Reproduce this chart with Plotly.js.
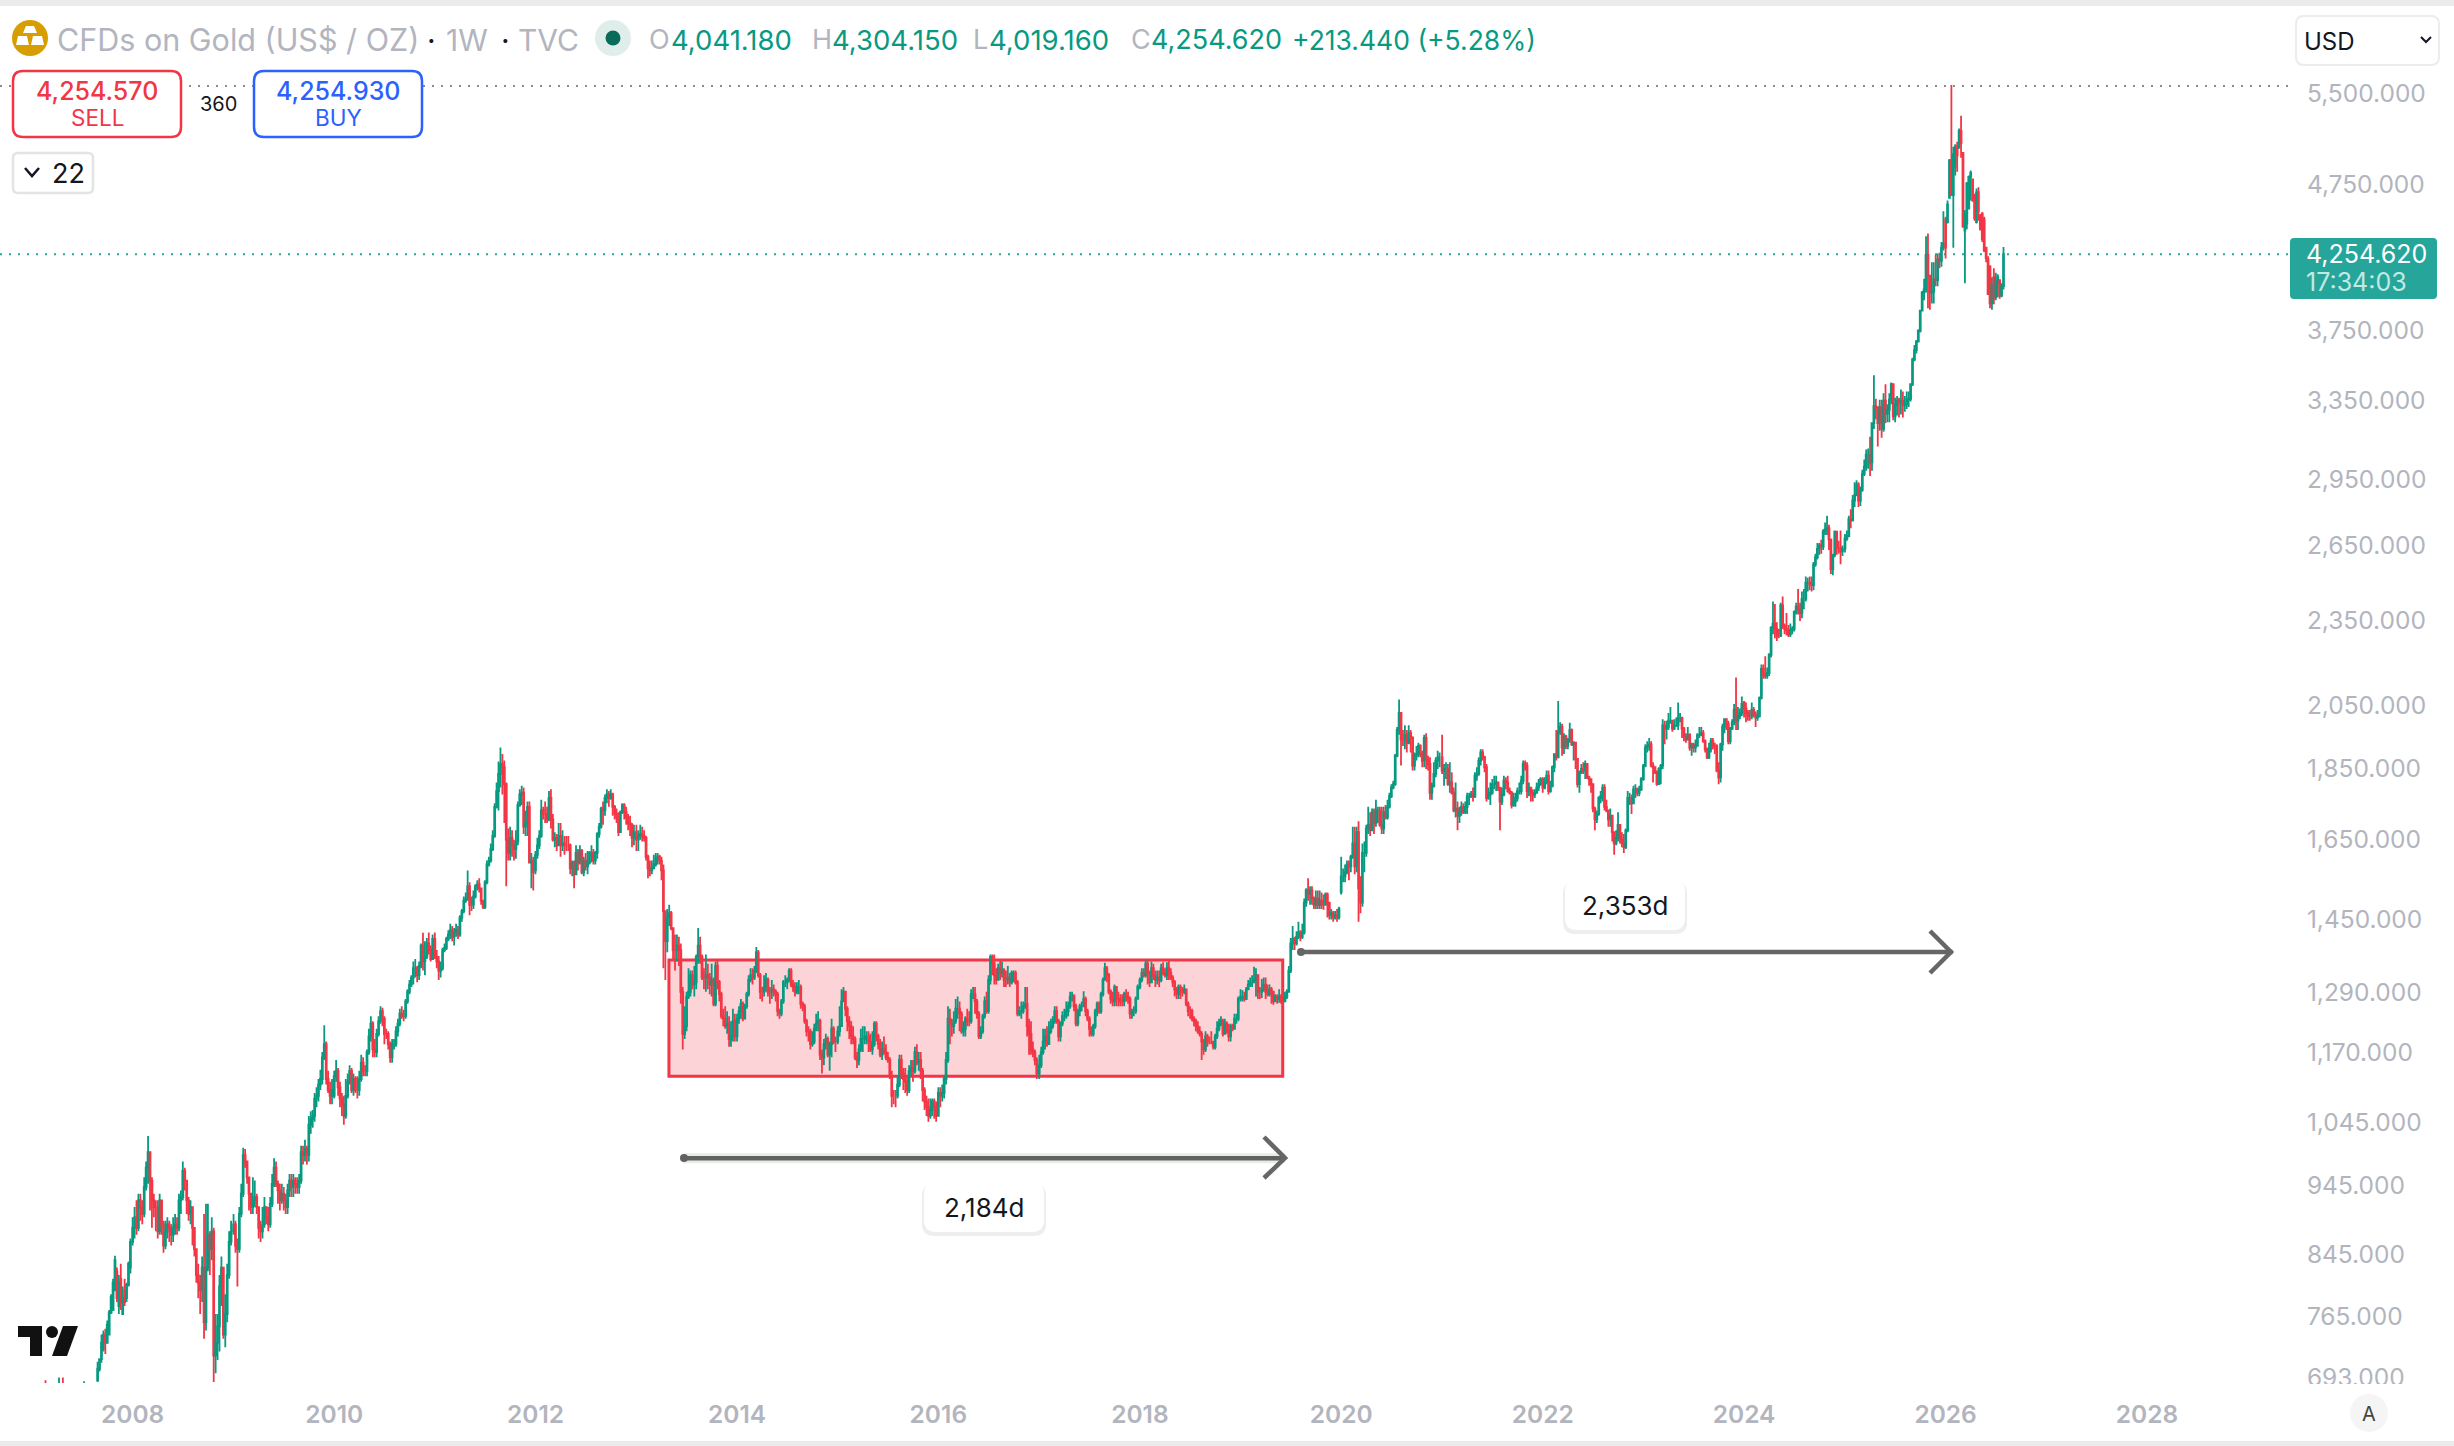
<!DOCTYPE html>
<html><head><meta charset="utf-8">
<script src="https://cdn.plot.ly/plotly-3.0.1.min.js"></script>
<style>html,body{margin:0;padding:0;background:#fff;overflow:hidden}#c{position:absolute;left:0;top:0;width:2454px;height:1446px}
#cover{position:absolute;left:2295px;top:1384px;width:140px;height:9px;background:#fff}</style>
</head><body><div id="c"></div><div id="cover"></div>
<script>
const close2007=[640,645,650,655,660,665,672,670,655,650,655,660,665,
670,675,672,668,665,660,655,650,648,650,655,650,655,660,675,
665,660,655,650,655,665,705,716,735,745,735,757,772,792,810,
840,790,810,785,790,785,807,835,865];
const open2007=[635,640,645,650,655,660,665,672,670,655,650,655,660,
665,670,675,672,668,665,660,655,650,648,650,655,650,655,660,
675,665,660,655,650,655,692,705,716,728,745,735,745,772,775,
800,825,780,815,770,800,790,807,830];
const high2007=[650,655,660,662,668,675,680,692,675,660,662,668,672,
678,695,680,695,675,670,665,660,655,658,660,660,665,670,691,
680,668,662,658,664,680,713,717,745,750,752,762,775,795,815,
846,830,820,835,805,815,810,838,870];
const low2007=[625,630,635,640,645,650,655,650,640,640,645,650,655,
660,662,660,655,650,648,642,640,640,640,642,640,640,645,650,
655,650,645,640,642,650,690,702,712,725,722,735,745,770,775,
800,785,770,775,770,780,785,805,822];

const close2008=[885,900,885,925,915,905,945,975,1000,955,925,915,915,
880,925,890,860,880,890,885,875,885,890,885,925,930,
970,955,925,905,915,885,855,820,810,800,830,760,830,
875,855,880,720,735,755,805,830,745,770,820,865,880];
const open2008=[865,885,900,885,925,915,905,945,975,1000,955,925,915,
915,880,925,890,860,880,890,885,875,885,890,885,925,
930,970,955,925,905,915,885,855,820,810,800,830,760,
830,875,855,880,720,735,755,805,830,745,770,820,865];
const high2008=[900,915,925,935,935,925,960,985,1026,1000,960,935,925,
925,935,925,895,895,900,895,890,900,905,900,935,940,
985,975,955,930,925,915,880,855,835,820,845,905,920,
920,880,900,885,770,770,820,845,830,795,835,880,895];
const low2008=[860,870,875,880,895,890,900,940,950,910,885,900,880,
870,875,875,850,855,870,865,860,865,875,875,880,905,
925,940,905,895,890,860,845,810,790,770,785,740,750,
825,820,840,690,700,715,725,780,740,730,760,815,860];

const close2009=[890,860,855,905,935,995,985,960,935,915,925,930,915,
885,880,890,915,900,890,920,950,975,950,940,925,935,
925,915,940,955,945,955,950,945,955,1000,995,1005,995,
1045,1055,1060,1090,1095,1115,1125,1165,1190,1125,1105,1095,1105];
const open2009=[880,890,860,855,905,935,995,985,960,935,915,925,930,
915,885,880,890,915,900,890,920,950,975,950,940,925,
935,925,915,940,955,945,955,950,945,955,1000,995,1005,
995,1045,1055,1060,1090,1095,1115,1125,1165,1190,1125,1105,1095];
const high2009=[905,895,870,915,950,1007,1005,985,960,935,960,955,935,
915,895,915,930,915,915,930,965,990,985,955,950,950,
945,935,950,965,965,965,960,960,965,1010,1010,1020,1010,
1060,1068,1070,1100,1110,1125,1142,1175,1227,1195,1140,1120,1125];
const low2009=[875,850,805,850,900,930,975,950,910,905,905,915,905,
870,865,870,885,890,880,885,915,945,945,920,910,920,
910,905,905,930,930,930,935,935,935,950,980,985,980,
985,1030,1040,1050,1075,1085,1105,1115,1160,1115,1100,1080,1080];

const close2010=[1130,1140,1110,1090,1080,1060,1095,1120,1140,1105,1125,1105,1105,
1125,1155,1140,1140,1175,1205,1230,1180,1175,1210,1235,1255,1240,
1210,1210,1190,1165,1190,1190,1215,1230,1250,1245,1245,1275,1295,1310,
1325,1345,1345,1330,1350,1395,1360,1370,1400,1385,1365,1410];
const open2010=[1095,1130,1140,1110,1090,1080,1060,1095,1120,1140,1105,1125,1105,
1105,1125,1155,1140,1140,1175,1205,1230,1180,1175,1210,1235,1255,
1240,1210,1210,1190,1165,1190,1190,1215,1230,1250,1245,1245,1275,1295,
1310,1325,1345,1345,1330,1350,1395,1360,1370,1400,1385,1365];
const high2010=[1140,1160,1145,1120,1100,1095,1125,1135,1150,1145,1135,1130,1130,
1140,1170,1165,1150,1180,1220,1245,1235,1200,1220,1245,1265,1262,
1245,1220,1215,1195,1200,1200,1225,1240,1260,1265,1258,1280,1300,1320,
1330,1360,1365,1350,1360,1400,1424,1405,1412,1425,1395,1420];
const low2010=[1090,1120,1095,1075,1060,1045,1055,1090,1115,1100,1095,1100,1090,
1095,1120,1130,1130,1130,1170,1195,1165,1165,1165,1205,1230,1225,
1190,1200,1180,1155,1155,1180,1185,1205,1225,1240,1235,1240,1270,1290,
1305,1310,1325,1315,1320,1345,1340,1330,1365,1375,1360,1365];

const close2011=[1370,1360,1340,1345,1385,1390,1410,1420,1430,1415,1425,1430,1420,
1460,1475,1500,1505,1535,1490,1490,1510,1535,1540,1530,1500,1485,
1545,1590,1600,1630,1665,1745,1790,1840,1870,1860,1810,1655,1620,1660,
1640,1630,1650,1750,1780,1785,1690,1700,1745,1595,1600,1570];
const open2011=[1410,1370,1360,1340,1345,1385,1390,1410,1420,1430,1415,1425,1430,
1420,1460,1475,1500,1505,1535,1490,1490,1510,1535,1540,1530,1500,
1485,1545,1590,1600,1630,1665,1745,1790,1840,1870,1860,1810,1655,1620,
1660,1640,1630,1650,1750,1780,1785,1690,1700,1745,1595,1600];
const high2011=[1425,1385,1372,1360,1390,1400,1415,1430,1445,1440,1435,1445,1440,
1465,1480,1510,1520,1575,1545,1510,1525,1540,1550,1555,1530,1500,
1550,1600,1610,1645,1680,1755,1815,1877,1920,1900,1880,1815,1685,1690,
1680,1655,1680,1760,1795,1805,1800,1735,1760,1760,1620,1610];
const low2011=[1365,1345,1320,1325,1340,1380,1385,1405,1410,1405,1395,1415,1410,
1415,1450,1470,1495,1500,1465,1475,1480,1505,1525,1520,1490,1480,
1480,1540,1585,1595,1625,1660,1740,1735,1800,1780,1700,1535,1600,1600,
1610,1600,1605,1640,1745,1750,1670,1665,1665,1595,1530,1525];

const close2012=[1615,1640,1665,1735,1725,1725,1710,1770,1710,1655,1660,1640,1665,
1640,1645,1640,1640,1640,1580,1595,1565,1620,1595,1625,1570,1600,
1585,1595,1620,1620,1600,1620,1670,1690,1740,1735,1770,1780,1770,1780,
1745,1725,1715,1675,1730,1750,1730,1715,1700,1695,1660,1675];
const open2012=[1575,1615,1640,1665,1735,1725,1725,1710,1770,1710,1655,1660,1640,
1665,1640,1645,1640,1640,1640,1580,1595,1565,1620,1595,1625,1570,
1600,1585,1595,1620,1620,1600,1620,1670,1690,1740,1735,1770,1780,1770,
1780,1745,1725,1715,1675,1730,1750,1730,1715,1700,1695,1660];
const high2012=[1625,1660,1680,1765,1745,1760,1745,1790,1795,1725,1675,1670,1700,
1700,1680,1665,1665,1665,1645,1600,1600,1640,1630,1640,1630,1610,
1620,1625,1625,1640,1630,1625,1675,1700,1745,1760,1780,1795,1790,1795,
1785,1750,1740,1730,1735,1755,1755,1745,1725,1720,1700,1695];
const low2012=[1565,1605,1630,1660,1710,1700,1700,1705,1685,1650,1635,1625,1640,
1610,1625,1615,1625,1625,1565,1560,1530,1565,1575,1590,1565,1560,
1575,1565,1590,1595,1590,1590,1605,1660,1685,1695,1720,1755,1745,1765,
1720,1710,1700,1665,1675,1725,1710,1695,1680,1665,1635,1640];

const close2013=[1655,1665,1670,1665,1660,1610,1580,1575,1580,1590,1605,1610,1600,
1575,1475,1405,1460,1470,1435,1385,1385,1395,1385,1295,1210,1225,
1285,1295,1330,1310,1315,1370,1395,1370,1325,1325,1330,1325,1310,1320,
1270,1350,1315,1290,1245,1240,1225,1230,1200,1205,1235,1205];
const open2013=[1675,1655,1665,1670,1665,1660,1610,1580,1575,1580,1590,1605,1610,
1600,1575,1475,1405,1460,1470,1435,1385,1385,1395,1385,1295,1210,
1225,1285,1295,1330,1310,1315,1370,1395,1370,1325,1325,1330,1325,1310,
1320,1270,1350,1315,1290,1245,1240,1225,1230,1200,1205,1235];
const high2013=[1695,1680,1695,1690,1680,1665,1615,1600,1600,1615,1620,1620,1615,
1610,1590,1430,1480,1490,1475,1430,1420,1420,1415,1400,1305,1265,
1295,1345,1340,1340,1350,1375,1435,1415,1375,1345,1375,1355,1335,1355,
1325,1360,1365,1320,1295,1260,1265,1255,1245,1235,1260,1250];
const low2013=[1625,1625,1655,1650,1650,1600,1555,1560,1565,1580,1585,1590,1590,
1550,1345,1320,1380,1440,1430,1365,1340,1360,1350,1270,1180,1200,
1215,1280,1285,1300,1285,1300,1355,1355,1320,1300,1295,1300,1290,1285,
1265,1265,1300,1275,1240,1225,1220,1210,1185,1185,1195,1195];

const close2014=[1240,1255,1270,1240,1265,1290,1320,1330,1325,1340,1380,1330,1295,
1295,1305,1320,1295,1295,1300,1295,1290,1255,1250,1275,1315,1315,
1320,1340,1310,1305,1295,1305,1305,1270,1265,1235,1215,1215,1190,1195,
1220,1230,1235,1170,1165,1190,1200,1170,1190,1220,1195,1195];
const open2014=[1205,1240,1255,1270,1240,1265,1290,1320,1330,1325,1340,1380,1330,
1295,1295,1305,1320,1295,1295,1300,1295,1290,1255,1250,1275,1315,
1315,1320,1340,1310,1305,1295,1305,1305,1270,1265,1235,1215,1215,1190,
1195,1220,1230,1235,1170,1165,1190,1200,1170,1190,1220,1195];
const high2014=[1250,1265,1280,1275,1270,1295,1330,1345,1345,1350,1392,1385,1335,
1305,1330,1335,1325,1305,1320,1310,1300,1295,1260,1280,1320,1330,
1325,1345,1345,1320,1315,1315,1320,1310,1275,1270,1240,1225,1220,1215,
1230,1250,1255,1240,1180,1200,1210,1205,1195,1240,1225,1205];
const low2014=[1195,1230,1240,1235,1240,1260,1285,1315,1310,1320,1335,1325,1280,
1275,1285,1295,1285,1270,1280,1285,1275,1245,1240,1245,1270,1305,
1300,1315,1305,1295,1285,1290,1290,1260,1255,1230,1205,1195,1180,1185,
1190,1215,1215,1160,1135,1150,1180,1165,1140,1165,1190,1175];

const close2015=[1215,1225,1275,1295,1260,1235,1225,1205,1200,1165,1160,1180,1200,
1200,1205,1205,1195,1180,1190,1230,1205,1190,1170,1180,1175,1165,
1160,1130,1095,1095,1095,1115,1160,1135,1125,1120,1105,1140,1145,1140,
1175,1155,1160,1140,1105,1085,1075,1060,1070,1085,1075,1060];
const open2015=[1195,1215,1225,1275,1295,1260,1235,1225,1205,1200,1165,1160,1180,
1200,1200,1205,1205,1195,1180,1190,1230,1205,1190,1170,1180,1175,
1165,1160,1130,1095,1095,1095,1115,1160,1135,1125,1120,1105,1140,1145,
1140,1175,1155,1160,1140,1105,1085,1075,1060,1070,1085,1075];
const high2015=[1225,1265,1300,1305,1295,1265,1245,1235,1225,1205,1175,1190,1220,
1225,1225,1215,1215,1210,1215,1235,1235,1210,1200,1195,1205,1190,
1175,1165,1140,1105,1105,1130,1170,1170,1145,1145,1130,1150,1160,1160,
1185,1190,1175,1175,1145,1110,1095,1090,1090,1090,1090,1085];
const low2015=[1190,1205,1225,1280,1245,1215,1200,1190,1190,1160,1145,1150,1175,
1175,1190,1190,1175,1175,1170,1185,1195,1180,1165,1160,1170,1160,
1155,1125,1075,1080,1075,1090,1110,1125,1105,1100,1095,1100,1130,1120,
1135,1150,1140,1125,1085,1070,1060,1050,1055,1060,1055,1050];

const close2016=[1100,1095,1100,1125,1160,1240,1230,1225,1235,1260,1260,1250,1215,
1220,1240,1235,1235,1290,1290,1275,1250,1205,1215,1245,1275,1255,
1320,1370,1355,1330,1320,1345,1335,1340,1320,1320,1325,1315,1335,1335,
1315,1250,1255,1255,1265,1270,1225,1210,1180,1175,1160,1135];
const open2016=[1060,1100,1095,1100,1125,1160,1240,1230,1225,1235,1260,1260,1250,
1215,1220,1240,1235,1235,1290,1290,1275,1250,1205,1215,1245,1275,
1255,1320,1370,1355,1330,1320,1345,1335,1340,1320,1320,1325,1315,1335,
1335,1315,1250,1255,1255,1265,1270,1225,1210,1180,1175,1160];
const high2016=[1110,1110,1115,1130,1175,1265,1260,1240,1255,1280,1285,1275,1255,
1235,1245,1260,1255,1300,1305,1305,1280,1255,1225,1250,1285,1295,
1330,1375,1375,1375,1345,1355,1365,1360,1345,1340,1350,1335,1340,1340,
1340,1320,1265,1275,1275,1305,1305,1240,1235,1195,1180,1165];
const low2016=[1060,1075,1085,1090,1115,1155,1190,1205,1210,1230,1240,1215,1210,
1205,1205,1225,1225,1230,1280,1250,1240,1200,1200,1210,1240,1250,
1250,1310,1330,1310,1310,1320,1320,1325,1305,1305,1310,1305,1310,1315,
1310,1245,1245,1240,1250,1260,1205,1170,1170,1165,1150,1125];

const close2017=[1150,1175,1195,1205,1190,1215,1225,1235,1255,1235,1205,1230,1245,
1245,1255,1265,1285,1285,1265,1230,1255,1265,1265,1280,1255,1240,
1220,1210,1225,1255,1270,1255,1290,1320,1345,1330,1295,1280,1275,1305,
1280,1280,1275,1275,1290,1285,1280,1250,1255,1255,1280,1305];
const open2017=[1135,1150,1175,1195,1205,1190,1215,1225,1235,1255,1235,1205,1230,
1245,1245,1255,1265,1285,1285,1265,1230,1255,1265,1265,1280,1255,
1240,1220,1210,1225,1255,1270,1255,1290,1320,1345,1330,1295,1280,1275,
1305,1280,1280,1275,1275,1290,1285,1280,1250,1255,1255,1280];
const high2017=[1170,1185,1220,1220,1225,1235,1240,1245,1265,1265,1240,1235,1255,
1260,1275,1275,1295,1295,1290,1270,1260,1270,1275,1296,1285,1260,
1245,1225,1230,1260,1275,1275,1295,1325,1357,1350,1335,1300,1295,1310,
1305,1295,1290,1290,1295,1300,1295,1285,1260,1265,1285,1310];
const low2017=[1125,1145,1170,1180,1185,1190,1210,1220,1230,1230,1195,1195,1225,
1235,1240,1245,1260,1275,1255,1225,1225,1245,1255,1265,1245,1235,
1205,1205,1205,1220,1245,1250,1250,1285,1320,1315,1290,1270,1265,1265,
1265,1265,1265,1265,1265,1275,1270,1240,1240,1245,1250,1280];

const close2018=[1320,1335,1330,1355,1335,1315,1345,1330,1320,1325,1320,1345,1335,
1330,1345,1335,1325,1315,1300,1290,1305,1295,1295,1300,1270,1255,
1255,1240,1235,1225,1215,1210,1195,1180,1205,1195,1195,1195,1185,1205,
1220,1230,1235,1210,1230,1215,1205,1225,1220,1240,1240,1280];
const open2018=[1305,1320,1335,1330,1355,1335,1315,1345,1330,1320,1325,1320,1345,
1335,1330,1345,1335,1325,1315,1300,1290,1305,1295,1295,1300,1270,
1255,1255,1240,1235,1225,1215,1210,1195,1180,1205,1195,1195,1195,1185,
1205,1220,1230,1235,1210,1230,1215,1205,1225,1220,1240,1240];
const high2018=[1325,1345,1345,1365,1365,1340,1360,1355,1340,1340,1340,1355,1358,
1345,1358,1365,1345,1330,1320,1305,1310,1310,1305,1310,1300,1275,
1265,1260,1245,1240,1235,1225,1215,1200,1215,1210,1205,1215,1195,1210,
1235,1240,1245,1240,1240,1235,1230,1230,1230,1250,1250,1285];
const low2018=[1300,1315,1325,1325,1310,1305,1315,1320,1305,1310,1305,1315,1330,
1325,1320,1320,1320,1305,1285,1280,1280,1280,1285,1290,1265,1245,
1240,1235,1225,1215,1210,1205,1160,1170,1175,1185,1190,1190,1180,1180,
1200,1215,1225,1205,1210,1210,1195,1195,1215,1220,1230,1235];

const close2019=[1285,1285,1280,1300,1310,1315,1315,1320,1330,1295,1295,1300,1310,
1295,1290,1300,1295,1275,1285,1280,1285,1275,1275,1285,1295,1340,
1400,1410,1400,1415,1425,1415,1425,1495,1525,1515,1525,1505,1490,1505,
1490,1500,1490,1490,1515,1495,1465,1470,1460,1465,1460,1480];
const open2019=[1280,1285,1285,1280,1300,1310,1315,1315,1320,1330,1295,1295,1300,
1310,1295,1290,1300,1295,1275,1285,1280,1285,1275,1275,1285,1295,
1340,1400,1410,1400,1415,1425,1415,1425,1495,1525,1515,1525,1505,1490,
1505,1490,1500,1490,1490,1515,1495,1465,1470,1460,1465,1460];
const high2019=[1300,1298,1295,1305,1320,1325,1330,1348,1345,1330,1305,1322,1325,
1325,1310,1310,1305,1295,1290,1290,1300,1290,1285,1295,1300,1350,
1412,1440,1415,1428,1450,1430,1445,1505,1530,1555,1535,1535,1510,1525,
1525,1525,1520,1515,1520,1520,1495,1480,1475,1475,1480,1485];
const low2019=[1275,1275,1275,1278,1300,1305,1305,1315,1285,1280,1280,1282,1295,
1280,1285,1285,1270,1268,1275,1270,1272,1270,1265,1275,1280,1295,
1335,1385,1385,1395,1410,1405,1410,1420,1485,1500,1490,1490,1480,1480,
1480,1480,1480,1478,1490,1460,1455,1455,1450,1455,1450,1455];

const close2020=[1560,1560,1570,1590,1585,1610,1645,1585,1675,1530,1495,1620,1620,
1685,1695,1680,1730,1700,1735,1735,1695,1685,1730,1715,1745,1775,
1800,1810,1895,1975,2030,1945,1945,1960,1935,1965,1950,1865,1895,1900,
1925,1900,1880,1950,1885,1870,1785,1805,1840,1880,1890,1890];
const open2020=[1520,1560,1560,1570,1590,1585,1610,1645,1585,1675,1530,1495,1620,
1620,1685,1695,1680,1730,1700,1735,1735,1695,1685,1730,1715,1745,
1775,1800,1810,1895,1975,2030,1945,1945,1960,1935,1965,1950,1865,1895,
1900,1925,1900,1880,1950,1885,1870,1785,1805,1840,1880,1890];
const high2020=[1610,1580,1590,1600,1600,1615,1690,1690,1690,1705,1560,1645,1650,
1695,1745,1730,1740,1740,1765,1745,1745,1745,1745,1750,1765,1785,
1810,1820,1900,1985,2075,2015,1975,1990,1975,1990,1975,1955,1905,1925,
1935,1930,1910,1960,1965,1895,1890,1815,1875,1890,1910,1905];
const low2020=[1515,1545,1545,1565,1550,1570,1605,1565,1570,1450,1470,1485,1570,
1610,1670,1665,1680,1670,1690,1700,1690,1670,1670,1710,1710,1740,
1770,1795,1805,1890,1960,1865,1925,1915,1905,1930,1905,1850,1850,1880,
1890,1890,1860,1860,1855,1850,1765,1765,1800,1830,1855,1860];

const close2021=[1850,1855,1855,1810,1815,1785,1735,1740,1720,1730,1745,1730,1745,
1775,1775,1780,1775,1835,1840,1880,1905,1890,1860,1770,1780,1785,
1810,1810,1815,1800,1760,1780,1820,1815,1790,1785,1750,1760,1770,1790,
1790,1820,1870,1865,1790,1800,1785,1780,1785,1800,1810,1825];
const open2021=[1890,1850,1855,1855,1810,1815,1785,1735,1740,1720,1730,1745,1730,
1745,1775,1775,1780,1775,1835,1840,1880,1905,1890,1860,1770,1780,
1785,1810,1810,1815,1800,1760,1780,1820,1815,1790,1785,1750,1760,1770,
1790,1790,1820,1870,1865,1790,1800,1785,1780,1785,1800,1810];
const high2021=[1960,1870,1875,1870,1875,1845,1800,1815,1760,1745,1760,1755,1760,
1785,1785,1790,1800,1845,1860,1890,1915,1915,1895,1870,1800,1815,
1825,1835,1835,1815,1800,1800,1835,1830,1835,1800,1790,1785,1785,1800,
1815,1835,1880,1880,1875,1815,1800,1795,1795,1815,1825,1830];
const low2021=[1840,1805,1825,1805,1785,1780,1730,1715,1680,1700,1720,1725,1725,
1725,1750,1770,1760,1770,1820,1835,1865,1880,1845,1760,1765,1750,
1780,1795,1790,1790,1680,1750,1775,1795,1785,1780,1740,1745,1745,1760,
1780,1780,1810,1850,1770,1775,1760,1760,1770,1785,1790,1805];

const close2022=[1800,1815,1835,1790,1805,1860,1900,1890,1970,1985,1920,1955,1925,
1945,1975,1930,1935,1885,1810,1845,1855,1850,1870,1830,1825,1810,
1740,1710,1725,1770,1775,1800,1745,1735,1710,1720,1675,1645,1660,1695,
1655,1645,1635,1680,1770,1770,1755,1795,1795,1785,1795,1825];
const open2022=[1825,1800,1815,1835,1790,1805,1860,1900,1890,1970,1985,1920,1955,
1925,1945,1975,1930,1935,1885,1810,1845,1855,1850,1870,1830,1825,
1810,1740,1710,1725,1770,1775,1800,1745,1735,1710,1720,1675,1645,1660,
1695,1655,1645,1635,1680,1770,1770,1755,1795,1795,1785,1795];
const high2022=[1830,1830,1850,1850,1820,1865,1880,1975,2070,2000,1995,1965,1960,
1950,1998,1980,1940,1910,1860,1850,1870,1875,1880,1845,1835,1815,
1785,1745,1735,1775,1790,1810,1810,1765,1735,1740,1680,1675,1680,1730,
1680,1675,1670,1685,1790,1785,1780,1805,1810,1800,1805,1830];
const low2022=[1785,1795,1810,1780,1785,1800,1845,1880,1890,1960,1895,1900,1915,
1915,1935,1925,1880,1855,1800,1785,1840,1840,1825,1825,1805,1785,
1730,1680,1700,1720,1755,1760,1735,1730,1690,1690,1650,1615,1640,1650,
1645,1635,1620,1630,1675,1750,1725,1755,1770,1775,1775,1790];

const close2023=[1865,1920,1925,1930,1865,1860,1845,1810,1855,1865,1990,1980,1985,
2005,2005,1980,1990,1990,2015,2015,1980,1955,1945,1960,1920,1930,
1920,1925,1960,1960,1965,1940,1915,1890,1915,1940,1925,1925,1850,1830,
1930,1985,2010,1995,1940,1980,2000,2040,2005,2020,2030,2060];
const open2023=[1825,1865,1920,1925,1930,1865,1860,1845,1810,1855,1865,1990,1980,
1985,2005,2005,1980,1990,1990,2015,2015,1980,1955,1945,1960,1920,
1930,1920,1925,1960,1960,1965,1940,1915,1890,1915,1940,1925,1925,1850,
1830,1930,1985,2010,1995,1940,1980,2000,2040,2005,2020,2030];
const high2023=[1870,1930,1940,1950,1940,1875,1860,1850,1860,1870,2010,2005,2005,
2030,2050,2005,2010,2015,2065,2030,2015,1985,1965,1985,1965,1935,
1935,1945,1965,1985,1985,1975,1945,1920,1935,1950,1950,1935,1930,1875,
1935,1995,2010,2010,2005,1985,2010,2060,2150,2050,2045,2085];
const low2023=[1820,1860,1905,1910,1860,1815,1840,1805,1810,1810,1855,1930,1945,
1975,1995,1970,1975,1985,1975,2000,1950,1940,1935,1945,1910,1895,
1905,1905,1925,1950,1955,1935,1905,1885,1885,1905,1915,1900,1845,1810,
1815,1910,1965,1975,1930,1930,1975,1990,1975,1975,2010,2020];

const close2024=[2045,2030,2020,2020,2040,2025,2015,2020,2080,2180,2160,2155,2165,
2230,2330,2345,2325,2300,2300,2415,2335,2325,2320,2305,2320,2325,
2390,2410,2400,2385,2440,2440,2505,2505,2500,2495,2580,2610,2645,2660,
2655,2720,2730,2735,2685,2560,2620,2720,2650,2650,2635,2645];
const open2024=[2065,2045,2030,2020,2020,2040,2025,2015,2020,2080,2180,2160,2155,
2165,2230,2330,2345,2325,2300,2300,2415,2335,2325,2320,2305,2320,
2325,2390,2410,2400,2385,2440,2440,2505,2505,2500,2495,2580,2610,2645,
2660,2655,2720,2730,2735,2685,2560,2620,2720,2650,2650,2635];
const high2024=[2070,2065,2040,2040,2065,2050,2035,2040,2085,2195,2195,2225,2185,
2235,2335,2430,2420,2350,2325,2425,2450,2345,2385,2340,2345,2335,
2395,2425,2480,2425,2470,2480,2530,2525,2530,2530,2590,2625,2670,2670,
2685,2730,2760,2790,2750,2690,2625,2725,2720,2680,2725,2660];
const low2024=[2015,2000,2005,2005,2010,2015,1985,2005,2015,2075,2145,2145,2145,
2155,2220,2305,2290,2280,2290,2295,2325,2305,2300,2295,2295,2305,
2315,2380,2380,2355,2365,2400,2430,2470,2475,2470,2475,2570,2600,2620,
2625,2640,2705,2705,2640,2540,2535,2610,2620,2625,2580,2615];

const close2025=[2690,2700,2775,2770,2860,2885,2935,2860,2910,2985,3020,3080,3080,
3040,3240,3330,3320,3240,3325,3210,3360,3290,3310,3365,3450,3275,
3335,3360,3350,3360,3335,3340,3365,3370,3450,3590,3645,3695,3760,3885,
4000,4020,4250,4110,4000,4005,4085,4080,4220,4210,4300,4330];
const open2025=[2645,2690,2700,2775,2770,2860,2885,2935,2860,2910,2985,3020,3080,
3080,3040,3240,3330,3320,3240,3325,3210,3360,3290,3310,3365,3450,
3275,3335,3360,3350,3360,3335,3340,3365,3370,3450,3590,3645,3695,3760,
3885,4000,4020,4250,4110,4000,4005,4085,4080,4220,4210,4300];
const high2025=[2710,2725,2790,2820,2885,2945,2955,2945,2925,3005,3055,3105,3110,
3170,3245,3500,3370,3330,3365,3365,3400,3450,3340,3400,3460,3455,
3375,3385,3375,3420,3410,3385,3410,3410,3455,3600,3675,3705,3770,3890,
4010,4090,4380,4400,4080,4200,4200,4250,4260,4265,4340,4560];
const low2025=[2630,2680,2695,2735,2765,2830,2880,2830,2835,2900,2975,3000,3010,
2975,3000,3210,3260,3120,3200,3165,3195,3240,3245,3245,3340,3255,
3245,3280,3270,3285,3270,3300,3315,3325,3355,3440,3580,3625,3690,3750,
3880,3950,4000,3900,3890,3930,3930,4040,4040,4160,4170,4280];

const close2026=[4300,4610,4950,4680,5000,5060,4990,5190,5090,4450,4540,4770,4820,
4850,4640,4510,4700,4560,4430,4360,4280,4230,3990,3930,4050,3960,
4070,4100,3980,4041];
const open2026=[4500,4480,4660,4950,4680,4900,5060,5050,5190,5010,4420,4470,4580,
4820,4800,4680,4480,4700,4530,4540,4500,4300,4220,4170,3930,4100,
3970,4060,4080,3980];
const high2026=[4520,4640,4960,5590,5060,5080,5100,5210,5320,5010,4570,4780,4830,
4870,4800,4690,4730,4740,4540,4555,4520,4300,4240,4180,4100,4160,
4130,4120,4080,4060];
const low2026=[4225,4470,4660,4680,4300,4830,4860,5050,4970,4440,4060,4430,4580,
4640,4630,4490,4470,4490,4420,4340,4270,4200,3990,3900,3890,3925,
3950,3970,3960,3970];
const lastBar={open:4041.18,high:4304.15,low:4019.16,close:4254.62};

const years=[2007,2008,2009,2010,2011,2012,2013,2014,2015,2016,2017,2018,2019,2020,2021,2022,2023,2024,2025,2026];
const yearData={2007:[open2007,high2007,low2007,close2007],2008:[open2008,high2008,low2008,close2008],2009:[open2009,high2009,low2009,close2009],2010:[open2010,high2010,low2010,close2010],2011:[open2011,high2011,low2011,close2011],2012:[open2012,high2012,low2012,close2012],2013:[open2013,high2013,low2013,close2013],2014:[open2014,high2014,low2014,close2014],2015:[open2015,high2015,low2015,close2015],2016:[open2016,high2016,low2016,close2016],2017:[open2017,high2017,low2017,close2017],2018:[open2018,high2018,low2018,close2018],2019:[open2019,high2019,low2019,close2019],2020:[open2020,high2020,low2020,close2020],2021:[open2021,high2021,low2021,close2021],2022:[open2022,high2022,low2022,close2022],2023:[open2023,high2023,low2023,close2023],2024:[open2024,high2024,low2024,close2024],2025:[open2025,high2025,low2025,close2025],2026:[open2026,high2026,low2026,close2026]};

const priceTicks=[5500,4750,3750,3350,2950,2650,2350,2050,1850,1650,1450,1290,1170,1045,945,845,765,693];
const priceLabels=['5,500.000','4,750.000','3,750.000','3,350.000','2,950.000','2,650.000','2,350.000','2,050.000','1,850.000','1,650.000','1,450.000','1,290.000','1,170.000','1,045.000','945.000','845.000','765.000','693.000'];
const yearTicks=[2008,2010,2012,2014,2016,2018,2020,2022,2024,2026,2028];
const zoneTop=1363,zoneBottom=1130,zoneStart='2013-04-29',zoneEnd='2019-06-03';
const highLine=5580,lastLine=4254.62;
const arrow1={y:990,from:'2013-06-20',to:'2019-06-10'};
const arrow2={y:1381,from:'2019-08-05',to:'2026-01-26'};

const UP='#089981',DOWN='#f23645',GRAY='#b2b5be';
const x=[],o=[],h=[],l=[],c=[];
const DAY=864e5;
years.forEach(Y=>{
  const d=yearData[Y];
  const n=Math.min(d[0].length,d[1].length,d[2].length,d[3].length,52);
  const t0=Date.UTC(Y,0,1);
  for(let i=0;i<n;i++){
    x.push(new Date(t0+7*i*DAY).toISOString().slice(0,10));
    o.push(d[0][i]);c.push(d[3][i]);
    h.push(Math.max(d[1][i],d[0][i],d[3][i]));
    l.push(Math.min(d[2][i],d[0][i],d[3][i]));
  }
});
x.push(new Date(Date.UTC(2026,0,1)+7*30*DAY).toISOString().slice(0,10));
o.push(lastBar.open);h.push(lastBar.high);l.push(lastBar.low);c.push(lastBar.close);

const W=2454,H=1446,ML=0,MR=164,MT=7,MB=63;
const PX=v=>(v-ML)/(W-ML-MR),PY=v=>1-(v-MT)/(H-MT-MB);
function rr(x0,y0,x1,y1,r){return `M${PX(x0+r)},${PY(y0)}L${PX(x1-r)},${PY(y0)}Q${PX(x1)},${PY(y0)} ${PX(x1)},${PY(y0+r)}L${PX(x1)},${PY(y1-r)}Q${PX(x1)},${PY(y1)} ${PX(x1-r)},${PY(y1)}L${PX(x0+r)},${PY(y1)}Q${PX(x0)},${PY(y1)} ${PX(x0)},${PY(y1-r)}L${PX(x0)},${PY(y0+r)}Q${PX(x0)},${PY(y0)} ${PX(x0+r)},${PY(y0)}Z`;}
function poly(pts){return 'M'+pts.map(p=>PX(p[0])+','+PY(p[1])).join('L')+'Z';}
function open(pts){return 'M'+pts.map(p=>PX(p[0])+','+PY(p[1])).join('L');}
function box(x0,y0,x1,y1,r,fill,line,w){return {type:'path',xref:'paper',yref:'paper',path:rr(x0,y0,x1,y1,r),fillcolor:fill,line:{color:line||fill,width:w===undefined?0:w},layer:'above'};}
function circle(cx,cy,r,fill){return {type:'circle',xref:'paper',yref:'paper',x0:PX(cx-r),x1:PX(cx+r),y0:PY(cy+r),y1:PY(cy-r),fillcolor:fill,line:{width:0},layer:'above'};}
function txt(px,py,s,size,color,anchor,weight){return {xref:'paper',yref:'paper',x:PX(px),y:PY(py),text:s,showarrow:false,xanchor:anchor||'left',yanchor:'middle',font:{family:'Inter, sans-serif',size:size,color:color,weight:weight||400},borderpad:0};}

const shapes=[
 {type:'rect',xref:'x',yref:'y',x0:zoneStart,x1:zoneEnd,y0:zoneBottom,y1:zoneTop,fillcolor:'rgba(242,54,69,0.22)',line:{color:DOWN,width:3},layer:'below'},
 {type:'line',xref:'paper',yref:'y',x0:0,x1:1,y0:highLine,y1:highLine,line:{color:'#8a8a8a',width:2,dash:'2px,7px'},layer:'below'},
 {type:'line',xref:'paper',yref:'y',x0:0,x1:1,y0:lastLine,y1:lastLine,line:{color:'#26a69a',width:2,dash:'2px,7px'},layer:'below'},
 {type:'line',xref:'x',yref:'y',x0:arrow1.from,x1:arrow1.to,y0:arrow1.y,y1:arrow1.y,line:{color:'#e6ede6',width:10},layer:'below'},
 {type:'line',xref:'x',yref:'y',x0:arrow1.from,x1:arrow1.to,y0:arrow1.y,y1:arrow1.y,line:{color:'#5f625f',width:4.5},layer:'above'},
 {type:'line',xref:'x',yref:'y',x0:arrow2.from,x1:arrow2.to,y0:arrow2.y,y1:arrow2.y,line:{color:'#666',width:4.5},layer:'above'},
 {type:'path',xref:'paper',yref:'paper',path:open([[1264,1137],[1285,1158],[1264,1178]]),line:{color:'#666',width:4.5},layer:'above'},
 {type:'path',xref:'paper',yref:'paper',path:open([[1930,931],[1951,952],[1930,973]]),line:{color:'#666',width:4.5},layer:'above'},
 circle(684,1158,4,'#5f625f'),circle(1301,952,4,'#666'),
 // price badge, selectors and buttons
 box(2290,238,2437,299,4,'#26a69a'),
 box(2296,16,2439,65,8,'#fff','#ececec',2),
 box(13,71,181,137,10,'#fff',DOWN,2.5),
 box(254,71,422,137,10,'#fff','#2962ff',2.5),
 box(13,153,93,193,5,'#fff','#e3e4e8',2.5),
 {type:'path',xref:'paper',yref:'paper',path:open([[25,168],[32,176],[39,168]]),line:{color:'#131722',width:2.5},layer:'above'},
 {type:'path',xref:'paper',yref:'paper',path:open([[2421,37],[2426,42],[2431,37]]),line:{color:'#131722',width:2},layer:'above'},
 // arrow value boxes (soft shadow + card)
 box(922,1184,1046,1236,12,'#eeeeee'),box(924,1182,1044,1232,12,'#ffffff'),
 box(1563,882,1687,934,12,'#eeeeee'),box(1565,880,1685,930,12,'#ffffff'),
 // symbol icon and status dot
 circle(30,38,18,'#d69e00'),
 {type:'path',xref:'paper',yref:'paper',path:poly([[26,26],[34,26],[37,33],[23,33]]),fillcolor:'#fff',line:{width:0},layer:'above'},
 {type:'path',xref:'paper',yref:'paper',path:poly([[18,36],[27,36],[29,45],[16,45]]),fillcolor:'#fff',line:{width:0},layer:'above'},
 {type:'path',xref:'paper',yref:'paper',path:poly([[33,36],[42,36],[44,45],[31,45]]),fillcolor:'#fff',line:{width:0},layer:'above'},
 circle(613,38,18,'#e0eeeb'),circle(613,38,7.5,'#0b6b5a'),
 // TradingView mark
 {type:'path',xref:'paper',yref:'paper',path:poly([[18,1326],[42,1326],[42,1356],[30,1356],[30,1337],[18,1337]]),fillcolor:'#111',line:{width:0},layer:'above'},
 circle(52,1332,6,'#111'),
 {type:'path',xref:'paper',yref:'paper',path:poly([[63,1326],[78,1326],[67,1356],[52,1356]]),fillcolor:'#111',line:{width:0},layer:'above'},
 // auto-scale chip and page rules
 circle(2369,1413,19,'#f5f5f5'),
 {type:'rect',xref:'paper',yref:'paper',x0:PX(0),x1:PX(W),y0:PY(6),y1:PY(0),fillcolor:'#ebebeb',line:{width:0},layer:'above'},
 {type:'rect',xref:'paper',yref:'paper',x0:PX(0),x1:PX(W),y0:PY(1446),y1:PY(1441),fillcolor:'#ebebeb',line:{width:0},layer:'above'}
];

const annotations=[
 txt(56,40,'CFDs on Gold (US$ / OZ)',30.5,GRAY),
 txt(426,40,'·',30,'#131722'),txt(445,40,'1W',30,GRAY),txt(500,40,'·',30,'#131722'),txt(517,40,'TVC',30,GRAY),
 txt(648,40,'O',27,GRAY),txt(670,40,'4,041.180',27.5,UP),
 txt(811,40,'H',27,GRAY),txt(831,40,'4,304.150',27.5,UP),
 txt(972,40,'L',27,GRAY),txt(988,40,'4,019.160',27.5,UP),
 txt(1130,40,'C',27,GRAY),txt(1150,40,'4,254.620',27,UP),
 txt(1291,40,'+213.440 (+5.28%)',26.5,UP),
 txt(97,91,'4,254.570',25,DOWN,'center',500),txt(97,118,'SELL',22.5,DOWN,'center'),
 txt(218,104,'360',20,'#131722','center'),
 txt(338,91,'4,254.930',25,'#2962ff','center',500),txt(338,118,'BUY',22.5,'#2962ff','center'),
 txt(68,174,'22',27,'#131722','center'),
 txt(2303,41,'USD',24,'#131722'),
 txt(2305,254,'4,254.620',25,'#fff'),txt(2305,282,'17:34:03',25,'#c4e8e3'),
 txt(984,1207,'2,184d',26,'#131722','center'),txt(1625,905,'2,353d',26,'#131722','center'),
 txt(2369,1414,'A',20,'#444','center')
];

const trace={type:'candlestick',x:x,open:o,high:h,low:l,close:c,whiskerwidth:0,hoverinfo:'skip',
 increasing:{line:{color:UP,width:1.8},fillcolor:UP},decreasing:{line:{color:DOWN,width:1.8},fillcolor:DOWN},showlegend:false};

Plotly.newPlot('c',[trace],{
 width:W,height:H,margin:{l:ML,r:MR,t:MT,b:MB},paper_bgcolor:'#fff',plot_bgcolor:'#fff',showlegend:false,
 boxgap:0.3,
 xaxis:{type:'date',range:['2006-09-07','2029-06-03'],rangeslider:{visible:false},showgrid:false,zeroline:false,showline:false,
  tickmode:'array',tickvals:yearTicks.map(y=>y+'-01-01'),ticktext:yearTicks.map(String),ticklen:10,tickcolor:'rgba(0,0,0,0)',
  tickfont:{family:'Inter, sans-serif',size:24.5,color:GRAY,weight:600}},
 yaxis:{type:'log',side:'right',range:[Math.log10(689),Math.log10(6339)],showgrid:false,zeroline:false,showline:false,
  tickmode:'array',tickvals:priceTicks,ticktext:priceLabels,ticks:'outside',ticklen:11,tickcolor:'rgba(0,0,0,0)',ticklabelshift:-2,
  tickfont:{family:'Inter, sans-serif',size:24.5,color:GRAY}},
 shapes:shapes,annotations:annotations
},{displayModeBar:false,staticPlot:true});
</script></body></html>
